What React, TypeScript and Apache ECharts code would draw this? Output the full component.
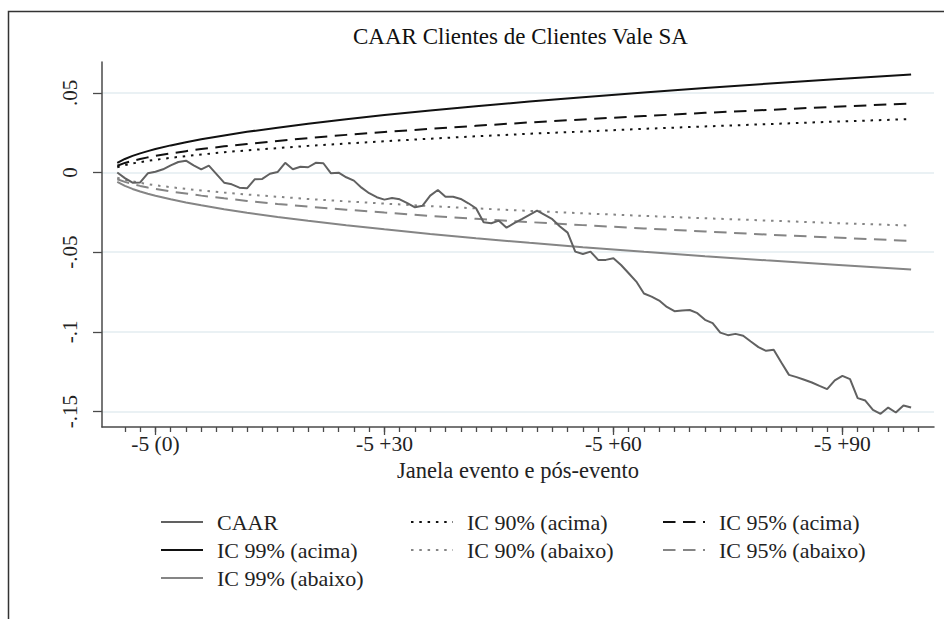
import React, { useEffect, useRef } from "react";
import * as echarts from "echarts";

const DAYS = [
  -5, -4, -3, -2, -1, 0, 1, 2, 3, 4, 5, 6, 7, 8, 9, 10, 11, 12, 13, 14,
  15, 16, 17, 18, 19, 20, 21, 22, 23, 24, 25, 26, 27, 28, 29, 30, 31, 32, 33, 34,
  35, 36, 37, 38, 39, 40, 41, 42, 43, 44, 45, 46, 47, 48, 49, 50, 51, 52, 53, 54,
  55, 56, 57, 58, 59, 60, 61, 62, 63, 64, 65, 66, 67, 68, 69, 70, 71, 72, 73, 74,
  75, 76, 77, 78, 79, 80, 81, 82, 83, 84, 85, 86, 87, 88, 89, 90, 91, 92, 93, 94,
  95, 96, 97, 98, 99,
];

const CAAR = [
  0.0, -0.0035, -0.0064, -0.0062, -0.0005, 0.0005, 0.002, 0.0045, 0.0066, 0.0074,
  0.0045, 0.002, 0.0043, -0.001, -0.0064, -0.0074, -0.0095, -0.0099, -0.0043, -0.004,
  -0.0008, 0.0003, 0.0061, 0.002, 0.0036, 0.0033, 0.0061, 0.0058, -0.0005, -0.0001,
  -0.003, -0.0051, -0.0095, -0.013, -0.0155, -0.017, -0.016, -0.0168, -0.0192, -0.0218,
  -0.0208, -0.0145, -0.011, -0.0152, -0.0152, -0.0166, -0.0193, -0.0224, -0.0312, -0.0318,
  -0.0302, -0.0346, -0.0318, -0.0293, -0.0266, -0.0239, -0.0266, -0.0293, -0.0338, -0.0377,
  -0.0496, -0.0511, -0.0496, -0.0548, -0.0548, -0.0538, -0.058, -0.0632, -0.0684, -0.0759,
  -0.0778, -0.0803, -0.0843, -0.087, -0.0866, -0.0862, -0.0882, -0.0924, -0.0945, -0.1004,
  -0.102, -0.1012, -0.1024, -0.106, -0.1095, -0.1118, -0.1112, -0.1192, -0.1269, -0.1283,
  -0.13, -0.1317, -0.1338, -0.1358, -0.1304, -0.1275, -0.1296, -0.1415, -0.143, -0.1488,
  -0.1513, -0.1474, -0.1505, -0.1461, -0.1474,
];

const BAND_DAYS = [-5, -4, -3, -2, -1, 0, 2, 4, 6, 9, 12, 16, 20, 25, 30, 36, 42, 49, 56, 64, 72, 80, 89, 99];

const IC99_UP = [0.006, 0.0085, 0.0104, 0.012, 0.0134, 0.0147, 0.017, 0.019, 0.0208, 0.0232, 0.0255, 0.0281, 0.0306, 0.0334, 0.036, 0.0389, 0.0416, 0.0445, 0.0472, 0.0502, 0.053, 0.0556, 0.0585, 0.0615];
const IC99_DN = [-0.0059, -0.0084, -0.0103, -0.0119, -0.0133, -0.0146, -0.0168, -0.0188, -0.0206, -0.023, -0.0252, -0.0279, -0.0303, -0.0331, -0.0356, -0.0385, -0.0412, -0.0441, -0.0468, -0.0497, -0.0525, -0.0551, -0.0579, -0.0609];
const IC95_UP = [0.0042, 0.006, 0.0073, 0.0085, 0.0095, 0.0104, 0.012, 0.0134, 0.0147, 0.0164, 0.0179, 0.0198, 0.0216, 0.0236, 0.0254, 0.0274, 0.0293, 0.0314, 0.0333, 0.0354, 0.0374, 0.0392, 0.0412, 0.0433];
const IC95_DN = [-0.0042, -0.0059, -0.0073, -0.0084, -0.0094, -0.0103, -0.0119, -0.0132, -0.0145, -0.0162, -0.0178, -0.0197, -0.0214, -0.0233, -0.0251, -0.0272, -0.029, -0.0311, -0.033, -0.0351, -0.037, -0.0389, -0.0408, -0.0429];
const IC90_UP = [0.0033, 0.0046, 0.0057, 0.0065, 0.0073, 0.008, 0.0092, 0.0103, 0.0113, 0.0127, 0.0139, 0.0153, 0.0167, 0.0182, 0.0196, 0.0212, 0.0227, 0.0243, 0.0257, 0.0274, 0.0289, 0.0303, 0.0319, 0.0335];
const IC90_DN = [-0.0033, -0.0046, -0.0056, -0.0065, -0.0073, -0.008, -0.0092, -0.0103, -0.0113, -0.0126, -0.0138, -0.0152, -0.0166, -0.0181, -0.0195, -0.0211, -0.0225, -0.0241, -0.0256, -0.0272, -0.0287, -0.0301, -0.0317, -0.0333];

const X_MAJOR = [0, 30, 60, 90];
const X_LABELS = ["-5 (0)", "-5 +30", "-5 +60", "-5 +90"];
const X_MINOR = [
  -4, -2, 0, 2, 4, 6, 8, 10, 12, 14, 16, 18, 20, 22, 24, 26, 28, 30, 32, 34, 36, 38, 40,
  42, 44, 46, 48, 50, 52, 54, 56, 58, 60, 62, 64, 66, 68, 70, 72, 74, 76, 78, 80, 82,
  84, 86, 88, 90, 92, 94, 96, 98, 100,
];
const Y_TICKS = [-0.15, -0.1, -0.05, 0, 0.05];
const Y_LABELS = ["-.15", "-.1", "-.05", "0", ".05"];

const TITLE = "CAAR Clientes de Clientes Vale SA";
const X_TITLE = "Janela evento e pós-evento";

const FONT = "'Liberation Serif', 'DejaVu Serif', serif";
const DARK = "#111111";
const GREY = "#858585";
const AXIS = "#4a4a4a";
const DOT = [2.5, 5.8];
const DASH = [12.5, 7.5];

function findLabel(v: number, ticks: number[], labels: string[]) {
  for (let i = 0; i < ticks.length; i++) {
    if (Math.abs(ticks[i] - v) < 1e-9) return labels[i];
  }
  return "";
}

function bandSeries(name: string, values: number[], color: string, type: any) {
  return {
    name,
    type: "line",
    data: BAND_DAYS.map((d, i) => [d, values[i]]),
    symbol: "none",
    showSymbol: false,
    lineStyle: { color, width: 2, type },
    itemStyle: { color },
    z: 2,
  };
}

export default function App() {
  const ref = useRef<HTMLDivElement>(null);

  useEffect(() => {
    if (!ref.current) return;
    const chart = echarts.init(ref.current, undefined, { renderer: "svg" });
    const legendText = { fontFamily: FONT, fontSize: 22, color: "#222", lineHeight: 22, padding: [0, 0, 0, 9] };
    const legendCommon = {
      orient: "vertical",
      top: 511,
      itemWidth: 42,
      itemHeight: 14,
      itemGap: 6,
      padding: 0,
      selectedMode: false,
      itemStyle: { opacity: 0, borderWidth: 0 },
      textStyle: legendText,
    };
    chart.setOption({
      animation: false,
      backgroundColor: "#ffffff",
      title: {
        text: TITLE,
        left: 348,
        top: 20,
        textStyle: { fontFamily: FONT, fontSize: 23, fontWeight: "normal", color: "#111" },
      },
      grid: { left: 102, right: 10, top: 62, height: 365, containLabel: false },
      legend: [
        { ...legendCommon, left: 160, data: ["CAAR", "IC 99% (acima)", "IC 99% (abaixo)"] },
        { ...legendCommon, left: 410, data: ["IC 90% (acima)", "IC 90% (abaixo)"] },
        { ...legendCommon, left: 662, data: ["IC 95% (acima)", "IC 95% (abaixo)"] },
      ],
      xAxis: [
        {
          type: "value",
          min: -7,
          max: 102,
          position: "bottom",
          axisLine: { show: true, onZero: false, lineStyle: { color: AXIS, width: 1.5 } },
          axisTick: { show: true, customValues: X_MINOR, length: 5, lineStyle: { color: AXIS, width: 1.3 } },
          axisLabel: {
            customValues: X_MAJOR,
            formatter: (v: number) => findLabel(v, X_MAJOR, X_LABELS),
            fontFamily: FONT,
            fontSize: 21.5,
            lineHeight: 18,
            color: "#222",
            margin: 8,
          },
          splitLine: { show: false },
          name: X_TITLE,
          nameLocation: "middle",
          nameGap: 34,
          nameMoveOverlap: false,
          nameTextStyle: { fontFamily: FONT, fontSize: 22.5, lineHeight: 18, color: "#222", verticalAlign: "top" },
        },
        {
          type: "value",
          min: -7,
          max: 102,
          position: "bottom",
          axisLine: { show: false, onZero: false },
          axisTick: { show: true, customValues: X_MAJOR, length: 8, lineStyle: { color: AXIS, width: 1.3 } },
          axisLabel: { show: false },
          splitLine: { show: false },
        },
      ],
      yAxis: {
        type: "value",
        min: -0.1596,
        max: 0.0693,
        axisLine: { show: true, onZero: false, lineStyle: { color: AXIS, width: 1.5 } },
        axisTick: { show: true, customValues: Y_TICKS, length: 9, lineStyle: { color: AXIS, width: 1.3 } },
        axisLabel: {
          customValues: Y_TICKS,
          formatter: (v: number) => findLabel(v, Y_TICKS, Y_LABELS),
          rotate: 90,
          fontFamily: FONT,
          fontSize: 21,
          color: "#222",
          margin: 22,
        },
        splitLine: { show: true, lineStyle: { color: "#e3edf0", width: 1.5 } },
      },
      graphic: [
        {
          type: "rect",
          shape: { x: 8.5, y: 11.5, width: 1000, height: 1000 },
          style: { fill: "none", stroke: "#333", lineWidth: 1.5 },
          silent: true,
        },
      ],
      series: [
        {
          name: "CAAR",
          type: "line",
          data: DAYS.map((d, i) => [d, CAAR[i]]),
          symbol: "none",
          showSymbol: false,
          lineStyle: { color: "#616161", width: 2 },
          itemStyle: { color: "#616161" },
          z: 3,
        },
        bandSeries("IC 90% (acima)", IC90_UP, DARK, DOT),
        bandSeries("IC 95% (acima)", IC95_UP, DARK, DASH),
        bandSeries("IC 99% (acima)", IC99_UP, DARK, "solid"),
        bandSeries("IC 90% (abaixo)", IC90_DN, GREY, DOT),
        bandSeries("IC 95% (abaixo)", IC95_DN, GREY, DASH),
        bandSeries("IC 99% (abaixo)", IC99_DN, GREY, "solid"),
      ],
    });
    return () => chart.dispose();
  }, []);

  return (
    <div
      ref={ref}
      style={{ position: "fixed", left: 0, top: 0, width: 944, height: 619, background: "#fff" }}
    />
  );
}
